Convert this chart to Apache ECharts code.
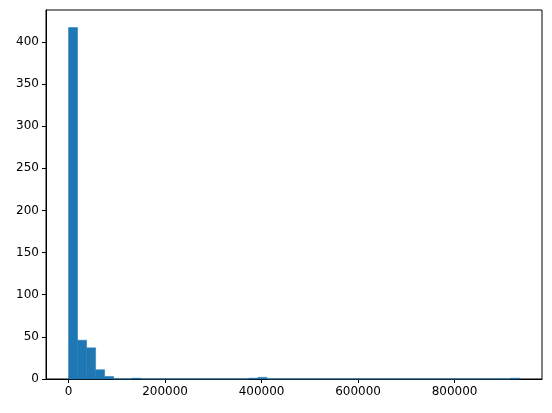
<!DOCTYPE html>
<html>
<head>
<meta charset="utf-8">
<script src="https://cdn.jsdelivr.net/npm/echarts@6/dist/echarts.min.js"></script>
<style>
  html, body { margin: 0; padding: 0; background: #fff; }
  #chart { width: 552px; height: 413px; }
</style>
</head>
<body>
<div id="chart"></div>
<script>
  // histogram: 50 bins between binMin and binMax
  const binMin = 0
  const binMax = 934500
  const counts = [
    417, 46, 37, 11, 3, 0, 0, 1, 0, 0,
    0, 0, 0, 0, 0, 0, 0, 0, 0, 0,
    1, 2, 0, 0, 0, 0, 0, 0, 0, 0,
    0, 0, 0, 0, 0, 0, 0, 0, 0, 0,
    0, 0, 0, 0, 0, 0, 0, 0, 0, 1
  ]
  const xTicks = [0, 200000, 400000, 600000, 800000]
  const yTicks = [0, 50, 100, 150, 200, 250, 300, 350, 400]

  const binWidth = (binMax - binMin) / counts.length
  const bins = counts.map((c, i) => [binMin + i * binWidth, binMin + (i + 1) * binWidth, c])

  // matplotlib-like 5% margins
  const span = binMax - binMin
  const xMin = binMin - span * 0.05
  const xMax = binMax + span * 0.05
  const yMax = Math.max(...counts) * 1.05

  const myChart = echarts.init(document.getElementById('chart'))

  const tickLabel = { color: '#000', fontSize: 12, fontFamily: 'DejaVu Sans', formatter: (v) => String(v) }

  const option = {
    animation: false,
    grid: {
      left: 46,
      right: 10,
      top: 10,
      bottom: 34,
      show: true,
      borderColor: '#000',
      borderWidth: 1
    },
    xAxis: {
      type: 'value',
      min: xMin,
      max: xMax,
      splitLine: { show: false },
      axisLine: { show: true, onZero: false, lineStyle: { color: '#000', width: 1 } },
      axisTick: { show: true, inside: false, length: 4, customValues: xTicks, lineStyle: { color: '#000' } },
      axisLabel: Object.assign({ margin: 7, customValues: xTicks }, tickLabel)
    },
    yAxis: {
      type: 'value',
      min: 0,
      max: yMax,
      splitLine: { show: false },
      axisLine: { show: true, onZero: false, lineStyle: { color: '#000', width: 1 } },
      axisTick: { show: true, inside: false, length: 4, customValues: yTicks, lineStyle: { color: '#000' } },
      axisLabel: Object.assign({ margin: 7, customValues: yTicks }, tickLabel)
    },
    series: [
      {
        type: 'custom',
        data: bins,
        encode: { x: [0, 1], y: 2 },
        renderItem: (params, api) => {
          const p0 = api.coord([api.value(0), 0])
          const p1 = api.coord([api.value(1), api.value(2)])
          return {
            type: 'rect',
            shape: { x: p0[0], y: p1[1], width: p1[0] - p0[0], height: p0[1] - p1[1] },
            style: { fill: '#1f77b4', stroke: '#1f77b4', lineWidth: 0.5 }
          }
        }
      }
    ]
  }

  myChart.setOption(option)
</script>
</body>
</html>
